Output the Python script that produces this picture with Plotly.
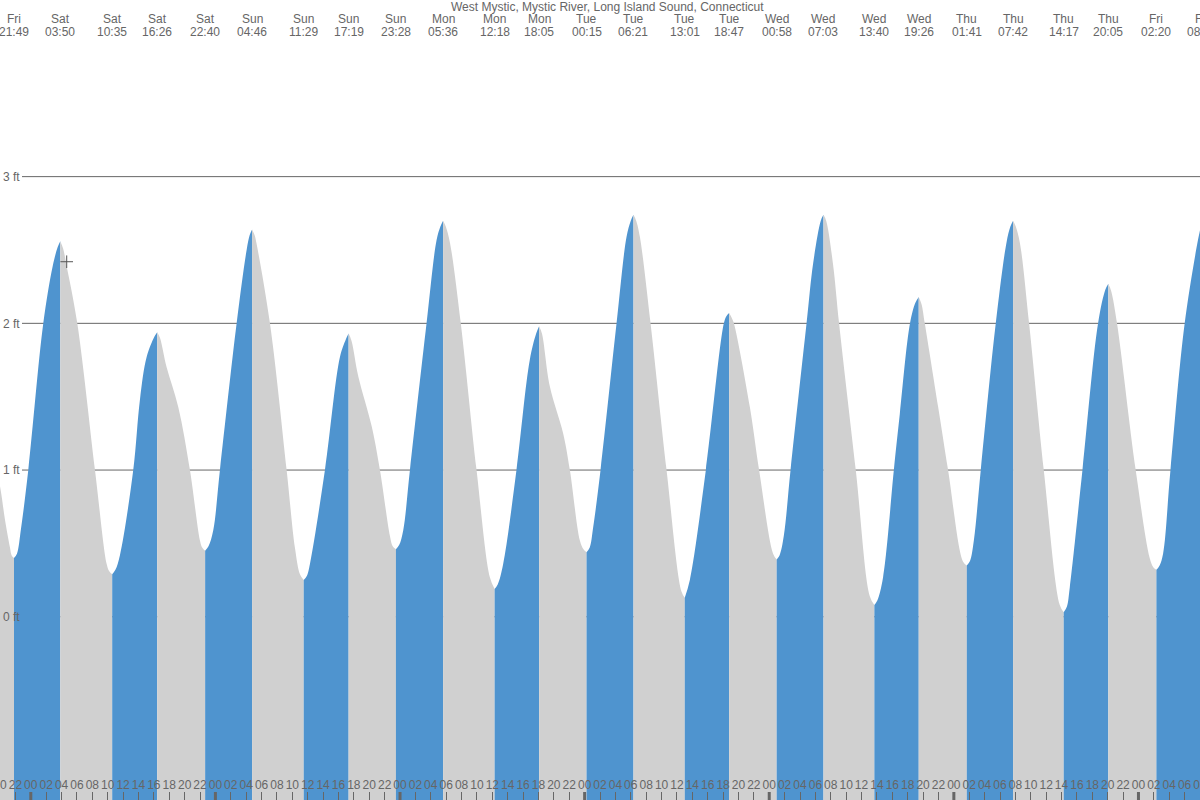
import plotly.graph_objects as go

TITLE = "West Mystic, Mystic River, Long Island Sound, Connecticut"

# high / low water events: label day, label time, hours since Sat 00:00, height in ft
event_day = ["Fri", "Fri", "Sat", "Sat", "Sat", "Sat", "Sun", "Sun", "Sun", "Sun",
             "Mon", "Mon", "Mon", "Tue", "Tue", "Tue", "Tue", "Wed", "Wed", "Wed",
             "Wed", "Thu", "Thu", "Thu", "Thu", "Fri", "Fri"]
event_time = ["15:40", "21:49", "03:50", "10:35", "16:26", "22:40", "04:46", "11:29",
              "17:19", "23:28", "05:36", "12:18", "18:05", "00:15", "06:21", "13:01",
              "18:47", "00:58", "07:03", "13:40", "19:26", "01:41", "07:42", "14:17",
              "20:05", "02:20", "08:12"]
event_hour = [-8.33, -2.183, 3.833, 10.583, 16.433, 22.667, 28.767, 35.483, 41.317,
              47.467, 53.6, 60.3, 66.083, 72.25, 78.35, 85.017, 90.783, 96.967,
              103.05, 109.667, 115.433, 121.683, 127.7, 134.283, 140.083, 146.333, 152.2]
event_ft = [1.93, 0.40, 2.56, 0.29, 1.94, 0.45, 2.64, 0.25, 1.93, 0.46, 2.70, 0.19,
            1.98, 0.44, 2.74, 0.13, 2.07, 0.39, 2.74, 0.08, 2.18, 0.35, 2.70, 0.03,
            2.27, 0.32, 2.67]

# points read along the curve between the events (hours since Sat 00:00, ft)
curve_hour = [-6.4, -4.0, -3.35, -2.7, -2.5,
              -1.8, -1.274, -0.325, 1.625, 2.846, 3.5,
              4.2, 4.666, 6.044, 8.344, 9.865, 10.2,
              11.0, 11.59, 13.32, 14.19, 15.06, 16.08,
              16.8, 17.66, 19.17, 20.69, 21.99, 22.3,
              23.1, 23.72, 24.59, 26.76, 28.06, 28.45,
              29.1, 29.36, 31.09, 33.26, 34.34, 34.99,
              35.9, 36.29, 38.24, 40.19, 40.95,
              41.7, 42.57, 44.31, 45.39, 46.69, 47.05,
              47.9, 48.42, 49.29, 51.45, 52.76, 53.25,
              53.95, 54.49, 55.9, 57.95, 59.68,
              60.7, 61.41, 63.14, 64.87, 65.7,
              66.45, 67.48, 69.21, 70.08, 71.38, 71.85,
              72.65, 73.11, 74.07, 76.15, 77.45, 78.0,
              78.7, 79.18, 80.57, 82.65, 84.6,
              85.68, 87.76, 90.1, 90.45,
              91.1, 91.4, 93.48, 94.68, 96.5,
              97.35, 97.89, 98.77, 100.85, 101.71, 102.7,
              103.4, 104.3, 105.08, 107.25, 109.07,
              110.05, 110.8, 112.2, 112.97, 114.3, 115.0,
              115.8, 116.22, 117.96, 119.25, 121.2,
              122.1, 122.6, 123.5, 125.45, 126.84, 127.35,
              128.05, 128.58, 129.78, 131.69, 133.77,
              134.7, 135.07, 136.72, 138.75, 139.7,
              140.45, 141.21, 143.64, 145.46, 145.9,
              146.75, 147.2, 148.16, 150.01, 151.96]
curve_ft = [1.50, 0.89, 0.66, 0.47, 0.42,
            0.43, 0.60, 1.0, 2.0, 2.39, 2.52,
            2.51, 2.39, 2.0, 1.0, 0.36, 0.31,
            0.32, 0.42, 1.0, 1.48, 1.77, 1.91,
            1.90, 1.70, 1.43, 1.0, 0.52, 0.47,
            0.48, 0.59, 1.0, 2.0, 2.50, 2.60,
            2.60, 2.54, 2.0, 1.0, 0.47, 0.29,
            0.28, 0.36, 1.0, 1.77, 1.89,
            1.88, 1.64, 1.30, 1.0, 0.55, 0.48,
            0.49, 0.59, 1.0, 2.0, 2.57, 2.66,
            2.66, 2.55, 2.0, 1.0, 0.27,
            0.22, 0.36, 1.0, 1.75, 1.93,
            1.93, 1.57, 1.25, 1.0, 0.52, 0.46,
            0.47, 0.61, 1.0, 2.0, 2.59, 2.70,
            2.70, 2.59, 2.0, 1.0, 0.17,
            0.25, 1.0, 2.0, 2.05,
            2.04, 2.0, 1.43, 1.0, 0.43,
            0.42, 0.55, 1.0, 2.0, 2.41, 2.70,
            2.70, 2.40, 2.0, 1.0, 0.14,
            0.11, 0.27, 1.0, 1.38, 2.0, 2.14,
            2.13, 2.0, 1.43, 1.0, 0.375,
            0.38, 0.52, 1.0, 2.0, 2.55, 2.66,
            2.66, 2.55, 2.0, 1.0, 0.08,
            0.07, 0.20, 1.0, 2.0, 2.23,
            2.22, 2.0, 1.0, 0.40, 0.34,
            0.35, 0.43, 1.0, 2.0, 2.625]

# current time marker
now_hour = [4.67]
now_ft = [2.42]

y_ticks = [0, 1, 2, 3]
y_labels = ["0 ft", "1 ft", "2 ft", "3 ft"]

BLUE = "#4f94cf"
GREY = "#d0d0d0"
LINE_COLOR = "#666666"
TEXT_COLOR = "#666666"
FONT = "Liberation Sans, Arial, sans-serif"

X_RANGE = [-4.003, 152.0]
Y_RANGE = [-1.249, 4.204]
Y_FLOOR = -2.0

points = sorted(zip(event_hour + curve_hour, event_ft + curve_ft))

fig = go.Figure()

for i in range(len(event_hour) - 1):
    h0, h1 = event_hour[i], event_hour[i + 1]
    seg = [p for p in points if h0 <= p[0] <= h1]
    color = BLUE if event_ft[i + 1] > event_ft[i] else GREY
    fig.add_trace(
        go.Scatter(
            x=[h0, h1],
            y=[Y_FLOOR, Y_FLOOR],
            mode="lines",
            line_width=0,
            hoverinfo="skip",
        )
    )
    fig.add_trace(
        go.Scatter(
            x=[p[0] for p in seg],
            y=[p[1] for p in seg],
            mode="lines",
            line=dict(width=0, shape="spline", smoothing=1),
            fill="tonexty",
            fillcolor=color,
            hoverinfo="skip",
        )
    )

fig.add_trace(
    go.Scatter(
        x=now_hour,
        y=now_ft,
        mode="markers",
        marker=dict(symbol="cross-thin", size=9, line=dict(width=1, color="#555555")),
        hoverinfo="skip",
    )
)

# horizontal reference lines, starting right of the ft labels
for v in y_ticks:
    fig.add_shape(
        type="line",
        xref="paper",
        x0=22 / 1200,
        x1=1,
        yref="y",
        y0=v,
        y1=v,
        line=dict(color=LINE_COLOR, width=1),
        layer="below",
    )

# heavier ticks at midnight
for d in range(0, int(X_RANGE[1]) + 1, 24):
    fig.add_shape(
        type="line",
        xref="x",
        x0=d,
        x1=d,
        yref="paper",
        y0=0,
        y1=8 / 800,
        line=dict(color=LINE_COLOR, width=3),
    )

# high / low water labels along the top
span = X_RANGE[1] - X_RANGE[0]
for day, tm, h in zip(event_day, event_time, event_hour):
    if h < X_RANGE[0]:
        continue
    frac = (h - X_RANGE[0]) / span
    for text, shift in ((day, -19), (tm, -32)):
        fig.add_annotation(
            text=text,
            xref="paper",
            yref="paper",
            x=frac,
            y=1,
            xanchor="center",
            yanchor="middle",
            yshift=shift,
            showarrow=False,
            font=dict(family=FONT, size=12, color=TEXT_COLOR),
        )

fig.add_annotation(
    text=TITLE,
    xref="paper",
    yref="paper",
    x=607 / 1200,
    y=1,
    xanchor="center",
    yanchor="middle",
    yshift=-7,
    showarrow=False,
    font=dict(family=FONT, size=12, color=TEXT_COLOR),
)

x_ticks = list(range(-4, int(X_RANGE[1]) + 1, 2))
fig.update_xaxes(
    range=X_RANGE,
    tickvals=x_ticks,
    ticktext=[f"{h % 24:02d}" for h in x_ticks],
    tickangle=0,
    ticks="inside",
    ticklen=8,
    tickwidth=1,
    tickcolor=LINE_COLOR,
    ticklabelposition="inside",
    ticklabeloverflow="allow",
    tickfont=dict(family=FONT, size=12, color=TEXT_COLOR),
    showgrid=False,
    zeroline=False,
    showline=False,
    automargin=False,
)
fig.update_yaxes(
    range=Y_RANGE,
    tickvals=y_ticks,
    ticktext=y_labels,
    ticks="",
    ticklabelposition="inside",
    ticklabeloverflow="allow",
    tickfont=dict(family=FONT, size=12, color=TEXT_COLOR),
    showgrid=False,
    zeroline=False,
    showline=False,
    automargin=False,
)
fig.update_layout(
    width=1200,
    height=800,
    margin=dict(l=0, r=0, t=0, b=0),
    plot_bgcolor="white",
    paper_bgcolor="white",
    showlegend=False,
    font_family=FONT,
)

fig.write_html(
    "out.html",
    config={"displayModeBar": False},
    post_script="document.body.style.margin='0';",
)
